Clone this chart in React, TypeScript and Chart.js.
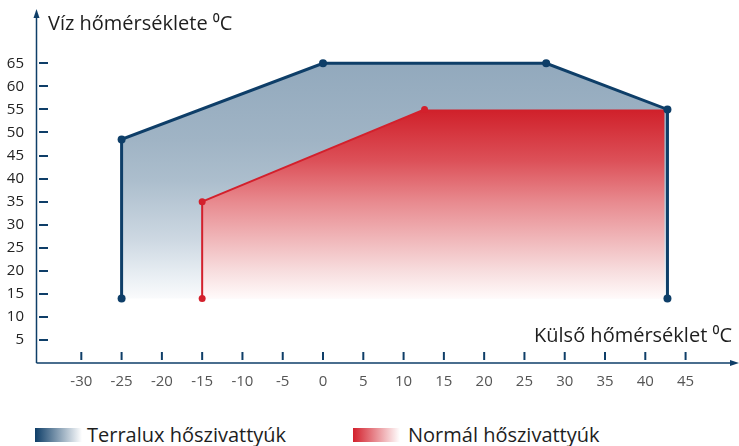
import React, { useEffect, useRef } from "react";
import { Chart, registerables } from "chart.js";

Chart.register(...registerables);

// ---- data ----
const xTicks = [-30, -25, -20, -15, -10, -5, 0, 5, 10, 15, 20, 25, 30, 35, 40, 45];
const yTicks = [5, 10, 15, 20, 25, 30, 35, 40, 45, 50, 55, 60, 65];
const terraluxX = [-25, -25, 0, 27.7, 42.75, 42.75];
const terraluxY = [14, 48.5, 65, 65, 55, 14];
const normalX = [-15, -15, 12.6, 42.4, 42.4];
const normalY = [14, 35, 55, 55, 14];
const normalLineCount = 3; // the red outline covers only the first three points
const seriesNames = ["Normál hőszivattyúk", "Terralux hőszivattyúk"];
const yTitle = "Víz hőmérséklete ⁰C";
const xTitle = "Külső hőmérséklet ⁰C";

const NAVY = "#0e3e68";
const RED = "#d3202c";
const FONT = "'Open Sans', Lato, sans-serif";

function blueGrad(chart: any) {
  const { ctx, chartArea, scales } = chart;
  if (!chartArea) return "rgba(150,172,192,0.8)";
  const y0 = scales.y.getPixelForValue(65);
  const y1 = scales.y.getPixelForValue(14);
  const g = ctx.createLinearGradient(0, y0, 0, y1);
  g.addColorStop(0, "rgb(146,169,189)");
  g.addColorStop(0.33, "rgb(160,180,197)");
  g.addColorStop(0.5, "rgb(172,190,205)");
  g.addColorStop(0.75, "rgb(205,216,226)");
  g.addColorStop(0.9, "rgb(232,238,243)");
  g.addColorStop(1, "rgb(250,251,252)");
  return g;
}

function redGrad(chart: any) {
  const { ctx, chartArea, scales } = chart;
  if (!chartArea) return "rgba(210,40,50,0.8)";
  const y0 = scales.y.getPixelForValue(55);
  const y1 = scales.y.getPixelForValue(14);
  const g = ctx.createLinearGradient(0, y0, 0, y1);
  g.addColorStop(0, "rgb(208,32,42)");
  g.addColorStop(0.27, "rgb(220,80,88)");
  g.addColorStop(0.49, "rgb(232,138,143)");
  g.addColorStop(0.85, "rgb(247,220,221)");
  g.addColorStop(1, "rgb(255,250,250)");
  return g;
}

const decorPlugin = {
  id: "decor",
  afterDatasetsDraw(chart: any) {
    const { ctx, chartArea: a, scales } = chart;
    const x = scales.x;
    const y = scales.y;
    ctx.save();
    ctx.strokeStyle = NAVY;
    ctx.fillStyle = NAVY;
    const ax = a.left - 0.5;
    ctx.lineWidth = 1.5;
    ctx.beginPath();
    ctx.moveTo(ax, a.bottom);
    ctx.lineTo(ax, a.top + 6);
    ctx.stroke();
    ctx.beginPath();
    ctx.moveTo(ax, a.top + 1);
    ctx.lineTo(ax - 3, a.top + 10);
    ctx.lineTo(ax + 3, a.top + 10);
    ctx.closePath();
    ctx.fill();
    const ay = a.bottom;
    ctx.beginPath();
    ctx.moveTo(ax, ay);
    ctx.lineTo(a.right - 6, ay);
    ctx.stroke();
    ctx.beginPath();
    ctx.moveTo(a.right, ay);
    ctx.lineTo(a.right - 9, ay - 3);
    ctx.lineTo(a.right - 9, ay + 3);
    ctx.closePath();
    ctx.fill();
    ctx.lineWidth = 2;
    yTicks.forEach((v) => {
      const py = Math.round(y.getPixelForValue(v));
      ctx.beginPath();
      ctx.moveTo(a.left + 2, py);
      ctx.lineTo(a.left + 11, py);
      ctx.stroke();
    });
    xTicks.forEach((v) => {
      const px = x.getPixelForValue(v);
      ctx.beginPath();
      ctx.moveTo(px, a.bottom - 11);
      ctx.lineTo(px, a.bottom - 3);
      ctx.stroke();
    });
    ctx.fillStyle = "#1e1e1e";
    ctx.font = `20px ${FONT}`;
    ctx.textBaseline = "alphabetic";
    ctx.textAlign = "left";
    ctx.fillText(yTitle, a.left + 11, a.top + 22);
    ctx.textAlign = "right";
    ctx.fillText(xTitle, a.right - 7, a.bottom - 21);
    ctx.restore();
  },
};

const zeroPad = (s: any) => {
  s.paddingTop = 0;
  s.paddingBottom = 0;
  s.paddingLeft = 0;
  s.paddingRight = 0;
};

export default function App() {
  const ref = useRef<HTMLCanvasElement>(null);
  useEffect(() => {
    document.body.style.margin = "0";
    const canvas = ref.current!;
    const normalPts = normalX.map((v, i) => ({ x: v, y: normalY[i] }));
    const chart = new Chart(canvas, {
      type: "scatter",
      data: {
        datasets: [
          {
            label: seriesNames[0],
            data: normalPts.slice(0, normalLineCount),
            showLine: true,
            borderColor: RED,
            borderWidth: 2,
            fill: false,
            pointRadius: 3.5,
            pointBackgroundColor: RED,
            pointBorderWidth: 0,
          } as any,
          {
            label: seriesNames[0] + " area",
            data: normalPts,
            showLine: true,
            borderWidth: 0,
            borderColor: "rgba(0,0,0,0)",
            backgroundColor: (c: any) => redGrad(c.chart),
            fill: { value: 14 },
            pointRadius: 0,
          } as any,
          {
            label: seriesNames[1],
            data: terraluxX.map((v, i) => ({ x: v, y: terraluxY[i] })),
            showLine: true,
            borderColor: NAVY,
            borderWidth: 3,
            backgroundColor: (c: any) => blueGrad(c.chart),
            fill: { value: 14 },
            pointRadius: 4,
            pointBackgroundColor: NAVY,
            pointBorderWidth: 0,
          } as any,
        ],
      },
      options: {
        responsive: false,
        animation: false,
        devicePixelRatio: 1,
        layout: { autoPadding: false, padding: { top: 8, right: 0, left: 0, bottom: 0 } } as any,
        plugins: {
          legend: { display: false },
          tooltip: { enabled: false },
          filler: { drawTime: "beforeDatasetsDraw" } as any,
        },
        scales: {
          x: {
            type: "linear",
            min: -35.5,
            max: 51.63,
            grid: { display: false, drawTicks: false },
            border: { display: false },
            afterBuildTicks: (s: any) => {
              s.ticks = xTicks.map((v) => ({ value: v }));
            },
            afterFit: (s: any) => {
              s.height = 37;
              zeroPad(s);
            },
            ticks: {
              padding: 10,
              color: "#555",
              font: { family: FONT, size: 15 },
              maxRotation: 0,
              autoSkip: false,
              callback: (v: any) => String(v),
            },
          },
          y: {
            type: "linear",
            min: 0,
            max: 77,
            grid: { display: false, drawTicks: false },
            border: { display: false },
            afterBuildTicks: (s: any) => {
              s.ticks = yTicks.map((v) => ({ value: v }));
            },
            afterFit: (s: any) => {
              s.width = 37;
              zeroPad(s);
            },
            ticks: {
              padding: 13,
              color: "#222",
              font: { family: FONT, size: 15 },
              autoSkip: false,
              callback: (v: any) => String(v),
            },
          },
        },
      },
      plugins: [decorPlugin],
    });
    return () => chart.destroy();
  }, []);

  const legendText: React.CSSProperties = {
    position: "absolute",
    fontFamily: FONT,
    fontSize: 20,
    color: "#1e1e1e",
    lineHeight: "20px",
    whiteSpace: "nowrap",
  };
  return (
    <div style={{ position: "relative", width: 739, height: 446, background: "#fff", overflow: "hidden" }}>
      <canvas ref={ref} width={739} height={400} style={{ display: "block" }} />
      <div style={{ position: "absolute", left: 35, top: 428, width: 47, height: 14, background: `linear-gradient(to right, ${NAVY}, #ffffff)` }} />
      <div style={{ ...legendText, left: 87, top: 425 }}>{seriesNames[1]}</div>
      <div style={{ position: "absolute", left: 353, top: 428, width: 47, height: 14, background: `linear-gradient(to right, ${RED}, #ffffff)` }} />
      <div style={{ ...legendText, left: 408, top: 425 }}>{seriesNames[0]}</div>
    </div>
  );
}
